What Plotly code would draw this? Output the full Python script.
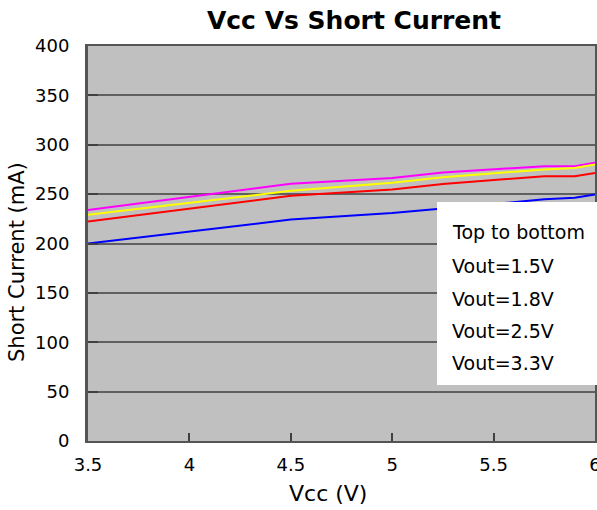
import plotly.graph_objects as go

vcc = [3.5, 4.5, 5.0, 5.25, 5.75, 5.9, 6.0]
i_magenta = [234, 260.4, 266.3, 272, 278.3, 278.3, 281.7]
i_yellow = [229, 253.3, 261.6, 267, 275, 276.5, 279.9]
i_red = [222.2, 248.3, 254.8, 260.3, 268.1, 268.1, 271.5]
i_blue = [200, 224.2, 230.8, 235.5, 244.7, 246.3, 249.7]

series = [
    ("Vout=1.5V", i_magenta, "#FF00FF"),
    ("Vout=1.8V", i_yellow, "#FFFF00"),
    ("Vout=2.5V", i_red, "#FF0000"),
    ("Vout=3.3V", i_blue, "#0000FF"),
]
legend_lines = ["Top to bottom", "Vout=1.5V", "Vout=1.8V", "Vout=2.5V", "Vout=3.3V"]
x_ticks = [3.5, 4, 4.5, 5, 5.5, 6]
x_tick_text = ["3.5", "4", "4.5", "5", "5.5", "6"]
y_ticks = [0, 50, 100, 150, 200, 250, 300, 350, 400]

FONT = "DejaVu Sans"

fig = go.Figure()
for name, vals, col in series:
    fig.add_trace(go.Scatter(x=vcc, y=vals, mode="lines", name=name,
                             line=dict(color=col, width=2), showlegend=False,
                             hoverinfo="skip"))

W, H = 597, 510
L, R, T, B = 88, 2, 46, 69
pw, ph = W - L - R, H - T - B

def px_x(p):
    return (p - L) / pw

def px_y(p):
    return (H - B - p) / ph

fig.add_shape(type="rect", xref="paper", yref="paper",
              x0=px_x(437), x1=px_x(600), y0=px_y(385), y1=px_y(202),
              fillcolor="white", line=dict(width=0), layer="above")

rows_y = [232, 266, 299, 331, 363]
for txt, ry in zip(legend_lines, rows_y):
    fig.add_annotation(text=txt, xref="paper", yref="paper", x=px_x(450), y=px_y(ry),
                       xanchor="left", yanchor="middle", showarrow=False,
                       font=dict(family=FONT, size=19, color="black"))

fig.add_annotation(text="Short Current (mA)", xref="paper", yref="paper",
                   x=px_x(17), y=px_y(262), textangle=-90, showarrow=False,
                   xanchor="center", yanchor="middle",
                   font=dict(family=FONT, size=21, color="black"))
fig.add_annotation(text="Vcc (V)", xref="paper", yref="paper",
                   x=px_x(328), y=px_y(493), showarrow=False,
                   xanchor="center", yanchor="middle",
                   font=dict(family=FONT, size=22, color="black"))

fig.update_layout(
    width=W, height=H,
    margin=dict(l=L, r=R, t=T, b=B, pad=0, autoexpand=False),
    paper_bgcolor="white", plot_bgcolor="#C0C0C0",
    title=dict(text="<b>Vcc Vs Short Current</b>", x=354 / W, xanchor="center",
               y=1 - 20 / H, yanchor="middle", xref="container", yref="container",
               automargin=False,
               font=dict(family=FONT, size=25, color="black")),
    font=dict(family=FONT, size=18, color="black"),
    hovermode=False,
)
fig.update_xaxes(range=[3.5, 6], tickvals=x_ticks, ticktext=x_tick_text,
                 showgrid=False, zeroline=False, automargin=False,
                 ticklabeloverflow="allow",
                 ticks="inside", ticklen=8, tickwidth=1.5, tickcolor="#404040",
                 showline=True, linecolor="#555555", linewidth=2, mirror=True,
                 ticklabelstandoff=6, tickfont=dict(family=FONT, size=18))
fig.update_yaxes(range=[0, 400], tickvals=y_ticks, automargin=False,
                 showgrid=True, gridcolor="#606060", gridwidth=1.5, zeroline=False,
                 ticks="inside", ticklen=10, tickwidth=2, tickcolor="#404040",
                 showline=True, linecolor="#555555", linewidth=3, mirror=True,
                 ticklabelstandoff=12, tickfont=dict(family=FONT, size=18))

fig.write_html("out.html", config={"displayModeBar": False},
               post_script="document.body.style.margin='0';document.body.style.overflow='hidden';")
